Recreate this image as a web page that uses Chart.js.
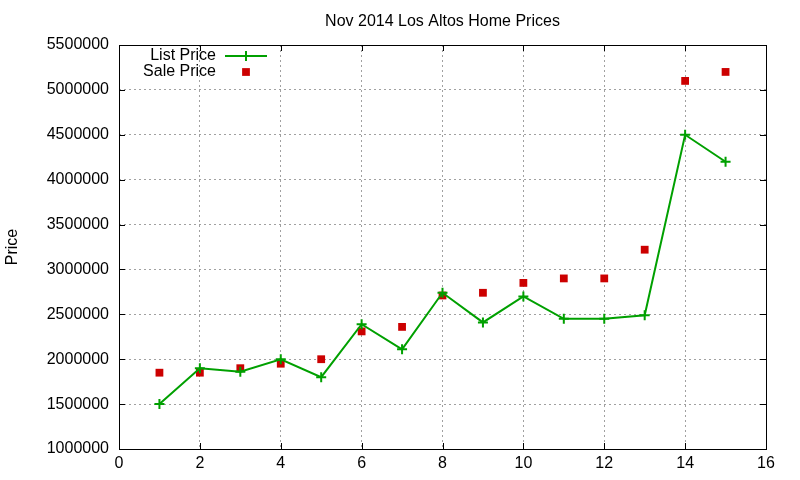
<!DOCTYPE html>
<html>
<head>
<meta charset="utf-8">
<script src="https://cdn.jsdelivr.net/npm/chart.js@4.4.0/dist/chart.umd.min.js"></script>
<style>
html, body { margin: 0; padding: 0; background: #fff; }
</style>
</head>
<body>
<canvas id="priceChart" width="800" height="480"></canvas>
<script>
// home number along the x axis
const homes = [1, 2, 3, 4, 5, 6, 7, 8, 9, 10, 11, 12, 13, 14, 15];
const listPrice = [1500000, 1900000, 1860000, 2000000, 1800000, 2390000, 2110000, 2740000,
                   2410000, 2700000, 2450000, 2450000, 2490000, 4500000, 4200000];
const salePrice = [1850000, 1850000, 1900000, 1950000, 2000000, 2310000, 2360000, 2710000,
                   2740000, 2850000, 2900000, 2900000, 3220000, 5100000, 5200000];
const xTicks = [0, 2, 4, 6, 8, 10, 12, 14, 16];
const yTicks = [1000000, 1500000, 2000000, 2500000, 3000000, 3500000, 4000000, 4500000, 5000000, 5500000];
const chartTitle = 'Nov 2014 Los Altos Home Prices';

const FONT = "'Liberation Sans', Arial, sans-serif";
const GREEN = '#00a000';
const RED = '#cc0000';

// gnuplot style box with inward ticks on all four sides, title centred on the plot
const frame = {
    id: 'frame',
    beforeDatasetsDraw(chart) {
        const { ctx, chartArea: a, scales } = chart;
        ctx.save();
        ctx.strokeStyle = '#000';
        ctx.lineWidth = 1;
        ctx.beginPath();
        xTicks.forEach(v => {
            const px = Math.round(scales.x.getPixelForValue(v)) + 0.5;
            ctx.moveTo(px, a.bottom); ctx.lineTo(px, a.bottom - 6);
            ctx.moveTo(px, a.top); ctx.lineTo(px, a.top + 6);
        });
        yTicks.forEach(v => {
            const py = Math.round(scales.y.getPixelForValue(v)) + 0.5;
            ctx.moveTo(a.left, py); ctx.lineTo(a.left + 6, py);
            ctx.moveTo(a.right, py); ctx.lineTo(a.right - 6, py);
        });
        ctx.stroke();
        ctx.strokeRect(Math.round(a.left) + 0.5, Math.round(a.top) + 0.5,
                       Math.round(a.right - a.left), Math.round(a.bottom - a.top));

        ctx.font = '16px ' + FONT;
        ctx.fillStyle = '#000';
        ctx.textAlign = 'center';
        ctx.textBaseline = 'middle';
        ctx.fillText(chartTitle, (a.left + a.right) / 2, a.top - 23);
        ctx.restore();
    }
};

// legend inside the plot, text right aligned then the sample
const insideLegend = {
    id: 'insideLegend',
    afterDraw(chart) {
        const { ctx, chartArea: a } = chart;
        const textRight = a.left + 97;
        const sampleX = a.left + 127;
        ctx.save();
        ctx.font = '16px ' + FONT;
        ctx.textAlign = 'right';
        ctx.textBaseline = 'middle';
        chart.data.datasets.forEach((ds, i) => {
            const y = a.top + 11 + i * 16;
            ctx.fillStyle = '#000';
            ctx.fillText(ds.label, textRight, y);
            if (ds.showLine !== false) {
                ctx.strokeStyle = ds.borderColor;
                ctx.lineWidth = ds.borderWidth;
                ctx.beginPath();
                ctx.moveTo(sampleX - 21, y);
                ctx.lineTo(sampleX + 21, y);
                ctx.stroke();
            }
            ctx.fillStyle = ds.pointBackgroundColor;
            ctx.strokeStyle = ds.pointBorderColor;
            ctx.lineWidth = ds.pointBorderWidth;
            Chart.helpers.drawPoint(ctx, {
                pointStyle: ds.pointStyle,
                radius: ds.pointRadius,
                borderWidth: ds.pointBorderWidth
            }, sampleX, y);
        });
        ctx.restore();
    }
};

const ctx = document.getElementById('priceChart').getContext('2d');
new Chart(ctx, {
    type: 'scatter',
    data: {
        datasets: [{
            label: 'List Price',
            data: homes.map((h, i) => ({ x: h, y: listPrice[i] })),
            showLine: true,
            borderColor: GREEN,
            borderWidth: 2,
            pointStyle: 'cross',
            pointRadius: 5,
            pointBorderWidth: 2,
            pointBorderColor: GREEN,
            pointBackgroundColor: GREEN,
            tension: 0
        }, {
            label: 'Sale Price',
            data: homes.map((h, i) => ({ x: h, y: salePrice[i] })),
            showLine: false,
            borderColor: RED,
            pointStyle: 'rect',
            pointRadius: 5.5,
            pointBorderWidth: 0,
            pointBorderColor: RED,
            pointBackgroundColor: RED
        }]
    },
    options: {
        responsive: false,
        animation: false,
        devicePixelRatio: 1,
        layout: { padding: { left: 0, right: 34, top: 45, bottom: 0 } },
        plugins: {
            legend: { display: false },
            tooltip: { enabled: false },
            title: { display: false }
        },
        scales: {
            x: {
                type: 'linear',
                min: 0,
                max: 16,
                afterBuildTicks: axis => { axis.ticks = xTicks.map(v => ({ value: v })); },
                afterFit: axis => { axis.height = 31; },
                border: { display: false, dash: [2, 3] },
                grid: { color: '#a0a0a0', lineWidth: 1, drawTicks: false },
                ticks: { color: '#000', padding: 5, font: { family: FONT, size: 16 } }
            },
            y: {
                type: 'linear',
                min: 1000000,
                max: 5500000,
                afterBuildTicks: axis => { axis.ticks = yTicks.map(v => ({ value: v })); },
                afterFit: axis => { axis.width = 119; },
                border: { display: false, dash: [2, 3] },
                grid: { color: '#a0a0a0', lineWidth: 1, drawTicks: false },
                ticks: { color: '#000', padding: 10, font: { family: FONT, size: 16 },
                         callback: v => String(v) },
                title: { display: true, text: 'Price', color: '#000',
                         font: { family: FONT, size: 16 }, padding: { top: 3, bottom: 0 } }
            }
        }
    },
    plugins: [frame, insideLegend]
});
</script>
</body>
</html>
